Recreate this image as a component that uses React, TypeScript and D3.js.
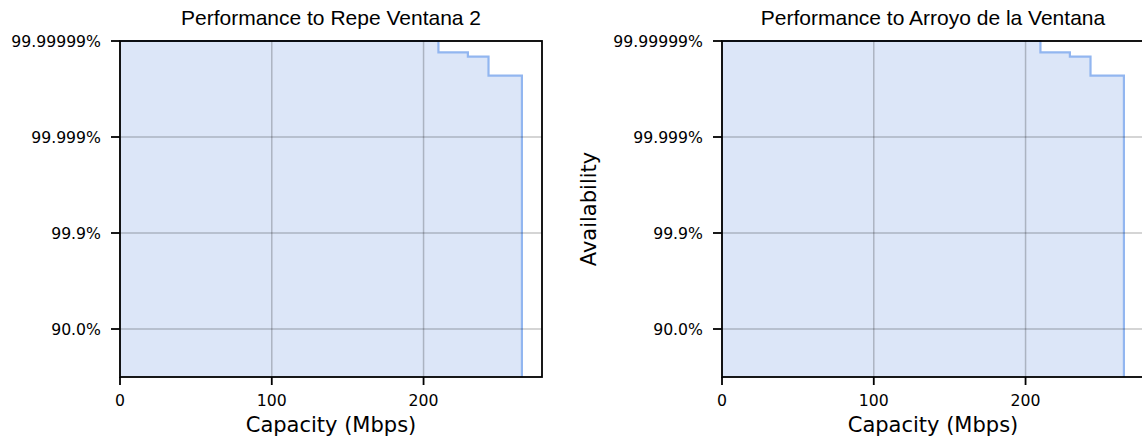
import React from 'react';
import * as d3 from 'd3';

// capacity steps (Mbps) and unavailability (1 - availability) after each step
const capacity = [0, 209.8, 229.2, 242.8, 264.8];
const unavailability = [1e-7, 1.72e-7, 2.12e-7, 5.28e-7, 1];

const titles = ['Performance to Repe Ventana 2', 'Performance to Arroyo de la Ventana'];
const xTicks = [0, 100, 200];
const yTicks = [1e-7, 1e-5, 1e-3, 1e-1];
const yTickLabels = ['99.99999%', '99.999%', '99.9%', '90.0%'];

const W = 1142;
const H = 439;
const plotW = 422;
const plotH = 336;
const top = 41;
const lefts = [120, 722];

const tickFont = 'DejaVu Sans, sans-serif';

function Panel({ left, title, showYLabel }: { left: number; title: string; showYLabel: boolean }) {
  const x = d3.scaleLinear().domain([0, d3.max(capacity)! * 1.05]).range([0, plotW]);
  const y = d3.scaleLog().domain([1, 1e-7]).range([plotH, 0]);

  const pts: [number, number][] = capacity.map((c, i) => [c, unavailability[i]]);
  const line = d3.line<[number, number]>()
    .x(d => x(d[0]))
    .y(d => y(d[1]))
    .curve(d3.curveStepAfter);
  const area = d3.area<[number, number]>()
    .x(d => x(d[0]))
    .y0(plotH)
    .y1(d => y(d[1]))
    .curve(d3.curveStepAfter);

  return (
    <g transform={`translate(${left},${top})`}>
      <path d={area(pts)!} fill="#dce6f8" />
      <path d={line(pts)!} fill="none" stroke="#92b6f0" strokeWidth={2.2} />
      {xTicks.map(t => (
        <line key={'gx' + t} x1={x(t)} x2={x(t)} y1={0} y2={plotH} stroke="#000" strokeOpacity={0.22} strokeWidth={1.5} />
      ))}
      {yTicks.map(t => (
        <line key={'gy' + t} x1={0} x2={plotW} y1={y(t)} y2={y(t)} stroke="#000" strokeOpacity={0.22} strokeWidth={1.5} />
      ))}
      <rect x={0} y={0} width={plotW} height={plotH} fill="none" stroke="#000" strokeWidth={1.8} />
      {xTicks.map(t => (
        <g key={'tx' + t} transform={`translate(${x(t)},${plotH})`}>
          <line y1={0} y2={8} stroke="#000" strokeWidth={1.8} />
          <text y={29} textAnchor="middle" fontFamily={tickFont} fontSize={15.7} fill="#000">{t}</text>
        </g>
      ))}
      {yTicks.map((t, i) => (
        <g key={'ty' + t} transform={`translate(0,${y(t)})`}>
          <line x1={-9} x2={0} stroke="#000" strokeWidth={1.8} />
          <text x={-19} dy="0.36em" textAnchor="end" fontFamily={tickFont} fontSize={15.7} fill="#000">{yTickLabels[i]}</text>
        </g>
      ))}
      <text x={plotW / 2} y={plotH + 55} textAnchor="middle" fontFamily={tickFont} fontSize={21} fill="#000">Capacity (Mbps)</text>
      <text x={plotW / 2} y={-16} textAnchor="middle" fontFamily="Liberation Sans, Arial, sans-serif" fontSize={21} fill="#000">{title}</text>
      {showYLabel && (
        <text transform={`translate(-126,${plotH / 2}) rotate(-90)`} textAnchor="middle" fontFamily={tickFont} fontSize={21} fill="#000">Availability</text>
      )}
    </g>
  );
}

export default function App() {
  return (
    <svg width={W} height={H} style={{ position: 'absolute', left: 0, top: 0, background: '#fff' }}>
      <rect width={W} height={H} fill="#fff" />
      {lefts.map((l, i) => (
        <Panel key={i} left={l} title={titles[i]} showYLabel={i === 1} />
      ))}
    </svg>
  );
}
